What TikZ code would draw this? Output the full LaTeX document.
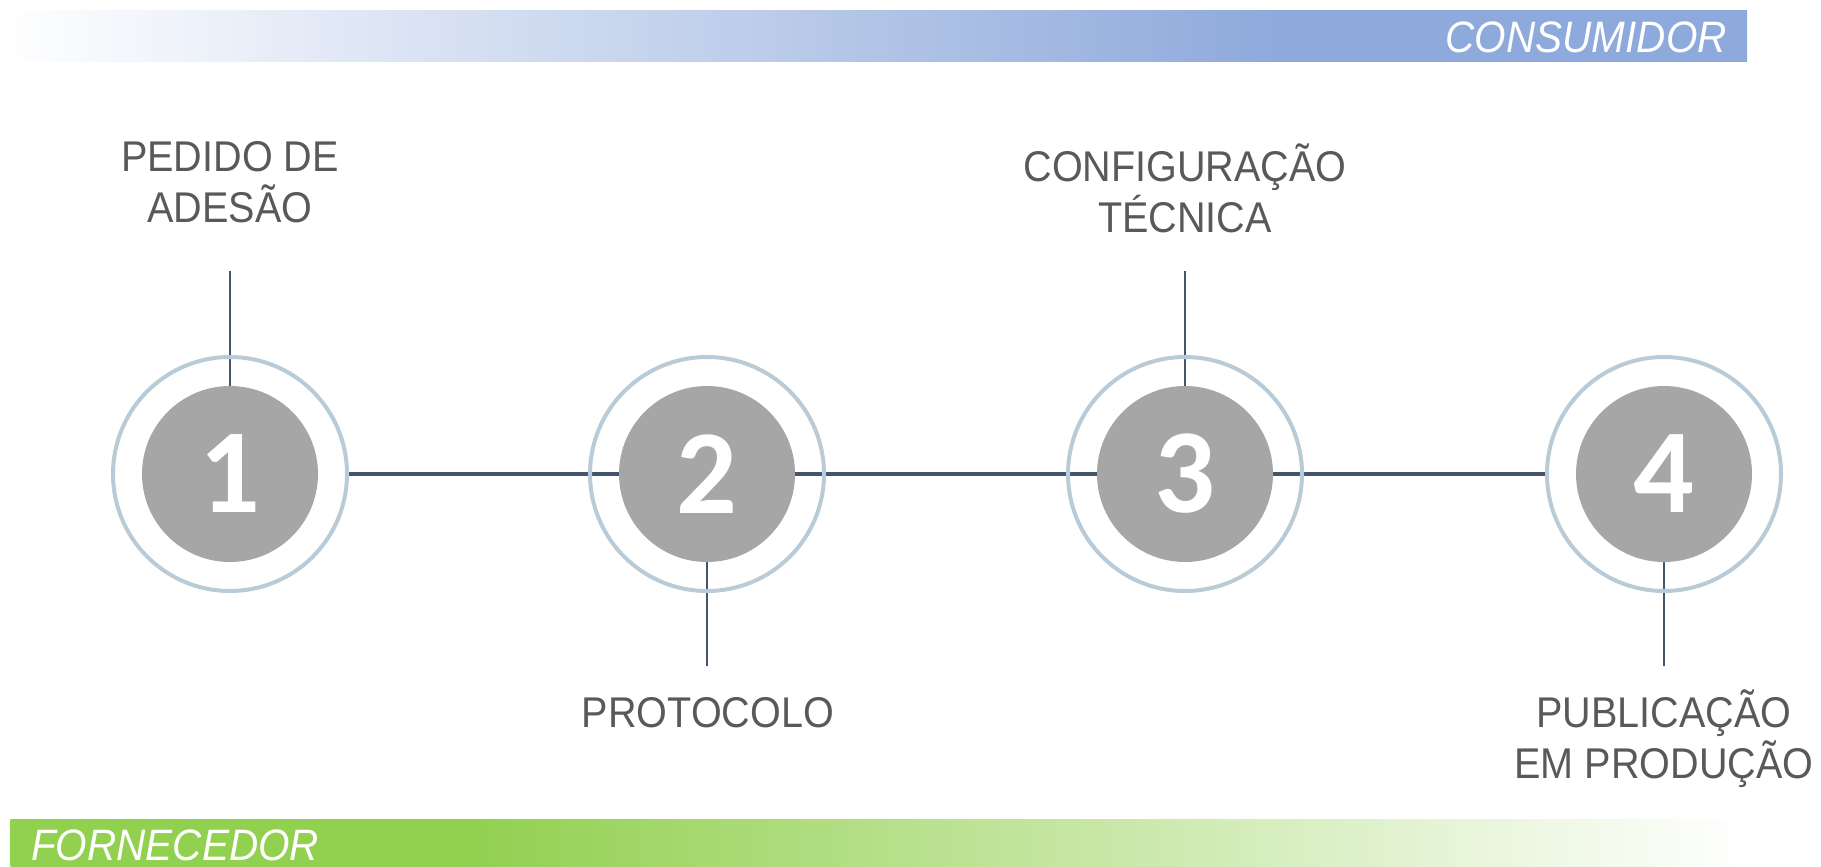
\documentclass[tikz,border=0pt]{standalone}
\usepackage{fontspec}
\setmainfont{Liberation Sans}
\newfontfamily\labfont[FakeStretch=0.92]{Liberation Sans}
\newfontfamily\numfont{Carlito}
\definecolor{barblue}{HTML}{8EA9DB}
\definecolor{bargreen}{HTML}{92D050}
\definecolor{ringc}{HTML}{BACBD8}
\definecolor{discc}{HTML}{A6A6A6}
\definecolor{linec}{HTML}{44546A}
\definecolor{textc}{HTML}{595959}
\pgfdeclarehorizontalshading{topbarshade}{100bp}{color(0bp)=(white); color(25bp)=(white); color(61.6bp)=(barblue); color(100bp)=(barblue)}
\pgfdeclarehorizontalshading{botbarshade}{100bp}{color(0bp)=(bargreen); color(38.2bp)=(bargreen); color(75bp)=(white); color(100bp)=(white)}
\begin{document}
\begin{tikzpicture}[x=1pt,y=-1pt,
  ring/.style={circle, draw=ringc, line width=4pt, minimum size=234pt, inner sep=0pt},
  disc/.style={circle, fill=discc, minimum size=176pt, inner sep=0pt, text=white,
    font=\numfont\bfseries\fontsize{120}{120}\selectfont},
  mainline/.style={draw=linec, line width=4pt},
  tick/.style={draw=linec, line width=2pt},
  lab/.style={align=center, text=textc, inner sep=0pt, anchor=base,
    font=\labfont\fontsize{43}{51}\selectfont},
  bartext/.style={text=white, inner sep=0pt,
    font=\labfont\itshape\fontsize{44}{50}\selectfont}]
\useasboundingbox (0,0) rectangle (1821,867);
% bars
\shade[shading=topbarshade] (0,11) rectangle (1747,62);
\shade[shading=botbarshade] (10.5,819) rectangle (1742,867);
\node[bartext, anchor=base east] (cons) at (1727,53) {CONSUMIDOR};
\node[bartext, anchor=base west] (forn) at (31,860) {FORNECEDOR};
% positions
\coordinate (c1) at (230,474);
\coordinate (c2) at (707,474);
\coordinate (c3) at (1185,474);
\coordinate (c4) at (1664,474);
% outline shapes (invisible, for anchors)
\foreach \i in {1,2,3,4} {
  \node[ring, draw=none] (r\i) at (c\i) {};
  \node[disc, fill=none] (p\i) at (c\i) {};
}
\draw[mainline] (r1.east) -- (r4.west);
% ticks
\coordinate (t1) at (230,271);
\coordinate (t2) at (707,666);
\coordinate (t3) at (1185,271);
\coordinate (t4) at (1664,666);
\draw[tick] (t1) -- (p1.north);
\draw[tick] (t2) -- (p2.south);
\draw[tick] (t3) -- (p3.north);
\draw[tick] (t4) -- (p4.south);
\foreach \i in {1,2,3,4} {
  \node[ring] at (c\i) {};
}
\node[disc] (d1) at (c1) {1};
\node[disc] (d2) at (c2) {2};
\node[disc] (d3) at (c3) {3};
\node[disc] (d4) at (c4) {4};
% labels (base anchor = last line's baseline)
\node[lab] (l1) at (230,222) {PEDIDO DE\\ADESÃO};
\node[lab] (l3) at (1185,232) {CONFIGURAÇÃO\\TÉCNICA};
\node[lab] (l2) at (708,727) {PROTOCOLO};
\node[lab] (l4) at (1664,778) {PUBLICAÇÃO\\EM PRODUÇÃO};
\end{tikzpicture}
\end{document}
